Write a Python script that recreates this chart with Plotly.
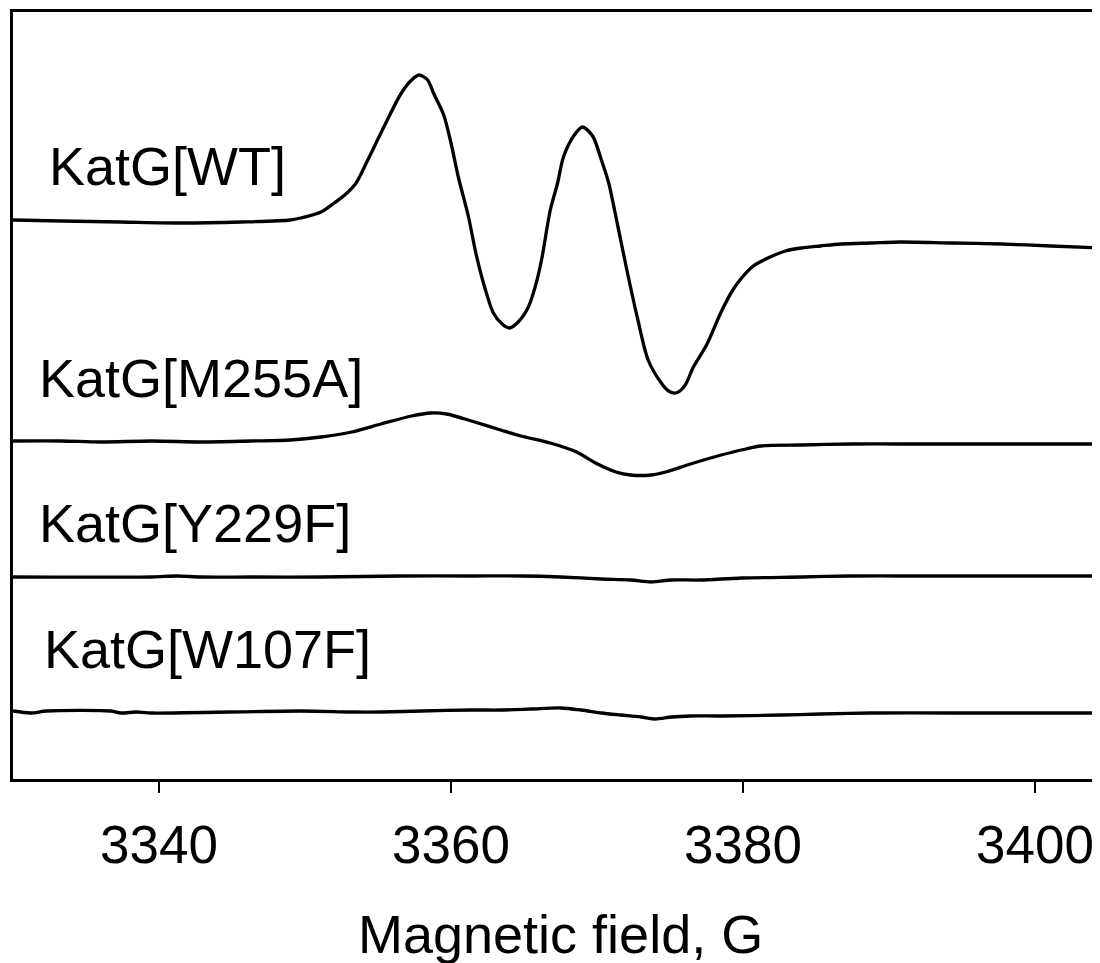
import plotly.graph_objects as go

# ---- data (field in G, signal in arbitrary units) ----
field_wt = [3330.0, 3333.3, 3337.4, 3341.5, 3345.6, 3349.0, 3349.7, 3351.1, 3352.0, 3352.8,
            3353.5, 3354.3, 3355.4, 3356.6, 3357.3, 3357.8, 3358.4, 3358.8, 3359.5, 3360.0,
            3360.5, 3361.2, 3361.7, 3362.3, 3362.9, 3363.5, 3364.0, 3364.6, 3365.3, 3365.8,
            3366.2, 3366.8, 3367.3, 3367.7, 3368.4, 3369.0, 3369.7, 3370.3, 3370.8, 3371.2,
            3372.0, 3372.8, 3373.5, 3374.4, 3374.9, 3375.4, 3376.0, 3376.6, 3377.5, 3378.5,
            3379.3, 3379.9, 3380.7, 3381.7, 3382.9, 3384.0, 3385.3, 3386.7, 3388.8, 3390.8,
            3394.2, 3397.7, 3401.1, 3404.5]
signal_wt = [0, -1, -2, -3, -2, 0, 2, 8, 17, 26,
             37, 60, 93, 127, 140, 145, 140, 127, 105, 77,
             43, 3, -33, -67, -93, -104, -108, -102, -87, -65,
             -40, 10, 37, 63, 84, 93, 84, 60, 37, 10,
             -47, -100, -140, -163, -171, -173, -166, -147, -125, -92,
             -70, -58, -46, -38, -31, -28, -26, -24, -23, -22,
             -23, -24, -26, -28]

field_m255a = [3330.0, 3333.3, 3336.0, 3339.5, 3342.9, 3346.3, 3349.0, 3351.1, 3353.2, 3355.2,
               3357.3, 3358.6, 3359.7, 3361.4, 3363.4, 3364.8, 3366.8, 3368.6, 3369.9, 3371.3,
               3372.3, 3373.7, 3374.7, 3376.4, 3378.5, 3380.2, 3381.2, 3384.0, 3387.4, 3390.8,
               3394.2, 3397.7, 3401.1, 3404.5]
signal_m255a = [0, 0, -1, 0, -1, 0, 1, 4, 9, 17,
                25, 28, 27, 20, 11, 5, -2, -11, -22, -31,
                -34, -34, -31, -23, -14, -8, -5, -4, -3, -3,
                -3, -3, -3, -3]

field_y229f = [3330.0, 3339.5, 3341.2, 3342.9, 3346.3, 3351.1, 3356.6, 3361.4, 3364.8, 3367.5,
               3370.3, 3372.3, 3373.7, 3375.1, 3377.1, 3379.9, 3384.0, 3387.4, 3390.8, 3397.7,
               3404.5]
signal_y229f = [0, 0, 1, 0, 0, 0, 1, 1, 1, 0,
                -2, -3, -5, -3, -3, -1, 0, 1, 1, 1,
                1]

field_w107f = [3330.0, 3331.2, 3332.3, 3336.7, 3337.4, 3338.4, 3339.5, 3349.7, 3353.2, 3355.2,
               3358.0, 3361.4, 3363.4, 3365.5, 3367.5, 3368.9, 3370.3, 3371.6, 3373.0, 3374.0,
               3375.1, 3376.4, 3378.5, 3382.6, 3385.3, 3388.8, 3394.2, 3397.7, 3404.5]
signal_w107f = [0, -2, 0, 0, -2, -1, -2, 0, -1, -1,
                0, 1, 1, 2, 3, 1, -2, -4, -6, -8,
                -6, -5, -5, -4, -3, -2, -2, -2, -2]

labels = ["KatG[WT]", "KatG[M255A]", "KatG[Y229F]", "KatG[W107F]"]
offsets = [560, 339, 203, 69]
tick_vals = [3340, 3360, 3380, 3400]
tick_text = ["3340", "3360", "3380", "3400"]
x_title = "Magnetic field, G"

FONT = "Liberation Sans, Arial, sans-serif"

series = [(field_wt, signal_wt), (field_m255a, signal_m255a),
          (field_y229f, signal_y229f), (field_w107f, signal_w107f)]

fig = go.Figure()
for (fx, sy), off, name in zip(series, offsets, labels):
    fig.add_trace(go.Scatter(
        x=fx, y=[v + off for v in sy], mode="lines", name=name,
        line=dict(color="black", width=3.3, shape="spline", smoothing=0.8),
        showlegend=False, hoverinfo="skip"))

# label positions (paper x, data y of cap centre)
label_pos = [(0.031, 780 - 166), (0.022, 780 - 378), (0.022, 780 - 523), (0.027, 780 - 649)]
for name, (lx, ly) in zip(labels, label_pos):
    fig.add_annotation(text=name, xref="paper", yref="y", x=lx, y=ly,
                       xanchor="left", yanchor="middle", showarrow=False,
                       font=dict(family=FONT, size=54, color="black"))

fig.add_annotation(text=x_title, xref="paper", yref="paper", x=0.504, y=-0.2015,
                   xanchor="center", yanchor="middle", showarrow=False,
                   font=dict(family=FONT, size=54, color="black"))

# the page body adds an 8px offset, so the figure is 8px smaller than the window
fig.update_layout(
    width=1092, height=955,
    margin=dict(l=5, r=0, t=4, b=184),
    paper_bgcolor="white", plot_bgcolor="white",
    font=dict(family=FONT, color="black"),
    xaxis=dict(range=[3330, 3404.45], tickvals=tick_vals, ticktext=tick_text,
               ticks="outside", ticklen=11, tickwidth=2, tickcolor="black",
               ticklabelstandoff=6,
               showline=True, linecolor="black", linewidth=3, mirror=True,
               showgrid=False, zeroline=False,
               tickfont=dict(family=FONT, size=53, color="black")),
    yaxis=dict(range=[1, 768], showline=True, linecolor="black", linewidth=3,
               showticklabels=False, ticks="", showgrid=False, zeroline=False),
)

fig.write_html("out.html")
